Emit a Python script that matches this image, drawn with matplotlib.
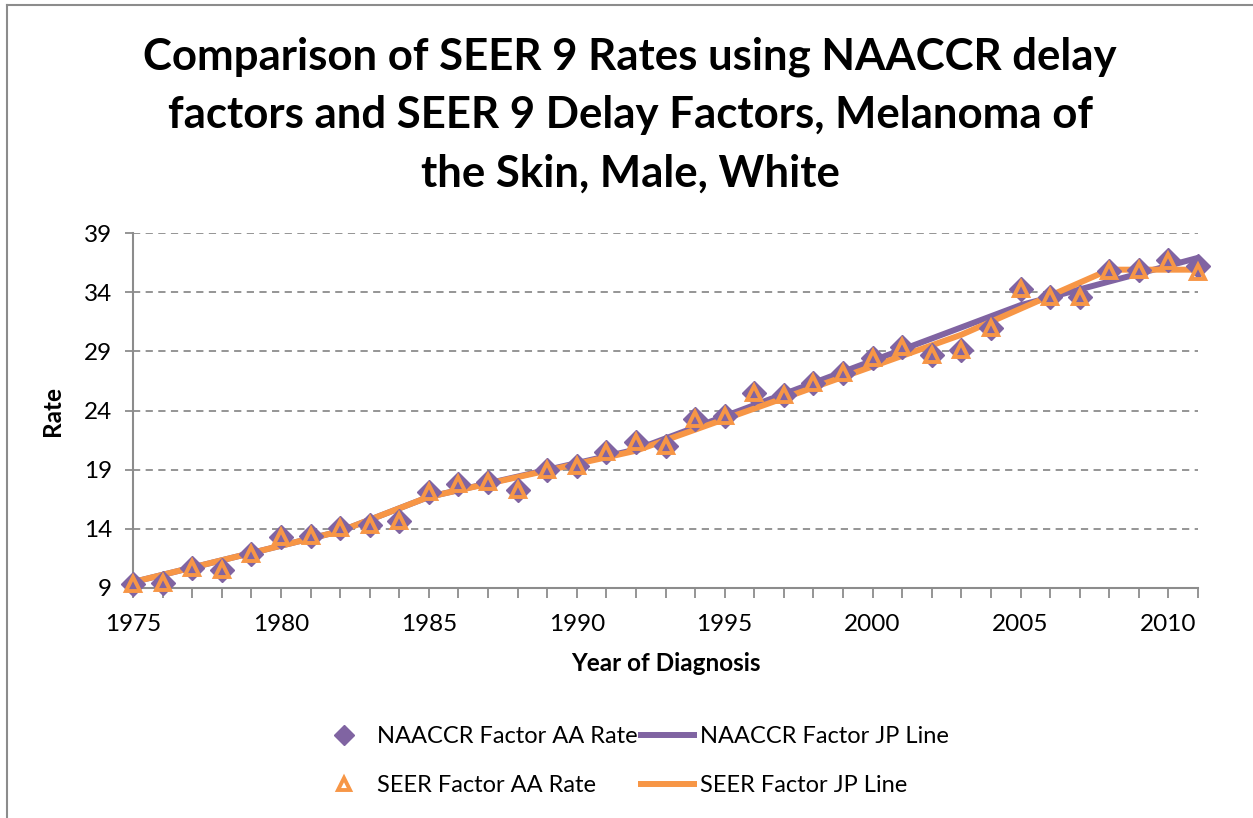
import matplotlib
matplotlib.use("Agg")
import matplotlib.pyplot as plt
from matplotlib.lines import Line2D

years = list(range(1975, 2012))
naaccr_rate = [9.3, 9.4, 10.7, 10.5, 11.9, 13.3, 13.4, 14.1, 14.3, 14.7,
               17.1, 17.8, 18.0, 17.3, 19.0, 19.3, 20.5, 21.3, 21.0, 23.3,
               23.5, 25.5, 25.3, 26.3, 27.2, 28.4, 29.4, 28.7, 29.1, 31.0,
               34.3, 33.6, 33.6, 35.8, 35.9, 36.7, 36.2]
seer_rate = [9.3, 9.4, 10.7, 10.5, 11.9, 13.3, 13.4, 14.1, 14.3, 14.7,
             17.1, 17.8, 18.0, 17.3, 19.0, 19.3, 20.5, 21.3, 21.0, 23.3,
             23.5, 25.5, 25.3, 26.3, 27.2, 28.4, 29.4, 28.7, 29.1, 31.0,
             34.3, 33.6, 33.6, 35.8, 35.9, 36.6, 35.7]
naaccr_jp_years = [1975, 1982, 1985, 1992, 2005, 2011]
naaccr_jp = [9.5, 13.8, 16.7, 20.7, 32.9, 36.9]
seer_jp_years = [1975, 1982, 1985, 1992, 2003, 2008, 2011]
seer_jp = [9.5, 13.8, 16.7, 20.6, 30.4, 35.9, 35.9]

x_ticks = [1975, 1980, 1985, 1990, 1995, 2000, 2005, 2010]
y_ticks = [9, 14, 19, 24, 29, 34, 39]

title = ("Comparison of SEER 9 Rates using NAACCR delay\n"
         "factors and SEER 9 Delay Factors, Melanoma of\n"
         "the Skin, Male, White")

PURPLE = "#8064A2"
ORANGE = "#F79646"
FONT = ["Lato", "DejaVu Sans"]
plt.rcParams["font.family"] = FONT

W, H = 1253, 818
fig = plt.figure(figsize=(W / 100, H / 100), dpi=100)
ax = fig.add_axes([133 / W, 1 - 588 / H, (1198 - 133) / W, (588 - 233) / H])

# figure frame (left and top edges visible)
fig.add_artist(Line2D([7 / W, 7 / W], [0, 1 - 5 / H], transform=fig.transFigure,
                      color="#8c8c8c", lw=1.5))
fig.add_artist(Line2D([7 / W, 1], [1 - 5 / H, 1 - 5 / H], transform=fig.transFigure,
                      color="#8c8c8c", lw=1.5))

for y in y_ticks[1:]:
    ax.axhline(y, color="#8c8c8c", lw=1.3, ls=(0, (4, 3)), zorder=0)

ax.plot(years, naaccr_rate, ls="none", marker="D", ms=12, color=PURPLE,
        mec=PURPLE, zorder=3, label="NAACCR Factor AA Rate", clip_on=False)
ax.plot(naaccr_jp_years, naaccr_jp, color=PURPLE, lw=4.3, zorder=2,
        label="NAACCR Factor JP Line", clip_on=False,
        solid_capstyle="butt")
ax.plot(years, seer_rate, ls="none", marker="^", ms=10.5, mfc="none", mec=ORANGE,
        mew=2.8, zorder=4, label="SEER Factor AA Rate", clip_on=False)
ax.plot(seer_jp_years, seer_jp, color=ORANGE, lw=4.3, zorder=2.5,
        label="SEER Factor JP Line", clip_on=False, solid_capstyle="butt")

ax.set_xlim(1975, 2011)
ax.set_ylim(9, 39)
ax.set_xticks(x_ticks)
ax.set_xticks(years, minor=True)
ax.set_yticks(y_ticks)
for s in ["top", "right"]:
    ax.spines[s].set_visible(False)
for s in ["left", "bottom"]:
    ax.spines[s].set_color("#8c8c8c")
    ax.spines[s].set_linewidth(1.5)
    ax.spines[s].set_zorder(1)
ax.tick_params(axis="x", which="both", direction="out", length=7, width=1.3,
               color="#8c8c8c", labelsize=17.5, pad=12)
ax.tick_params(axis="y", which="both", direction="out", length=6, width=1.3,
               color="#8c8c8c", labelsize=17.5, pad=9)
ax.set_xlabel("Year of Diagnosis", fontsize=17.5, fontweight="bold", labelpad=12)
ax.set_ylabel("Rate", fontsize=17.5, fontweight="bold", labelpad=14)

fig.text(630 / W, 1 - 115 / H, title, ha="center", va="center", fontsize=31.5,
         fontweight="bold", linespacing=1.55)

h, l = ax.get_legend_handles_labels()
order = [0, 2, 1, 3]
leg = fig.legend([h[i] for i in order], [l[i] for i in order], ncol=2,
                 loc="center", bbox_to_anchor=(632 / W, 1 - 761 / H),
                 frameon=False, fontsize=17, handlelength=2.5,
                 handletextpad=0.12, columnspacing=0.05, labelspacing=1.2,
                 markerscale=0.85)

fig.savefig("out.png", dpi=100)
